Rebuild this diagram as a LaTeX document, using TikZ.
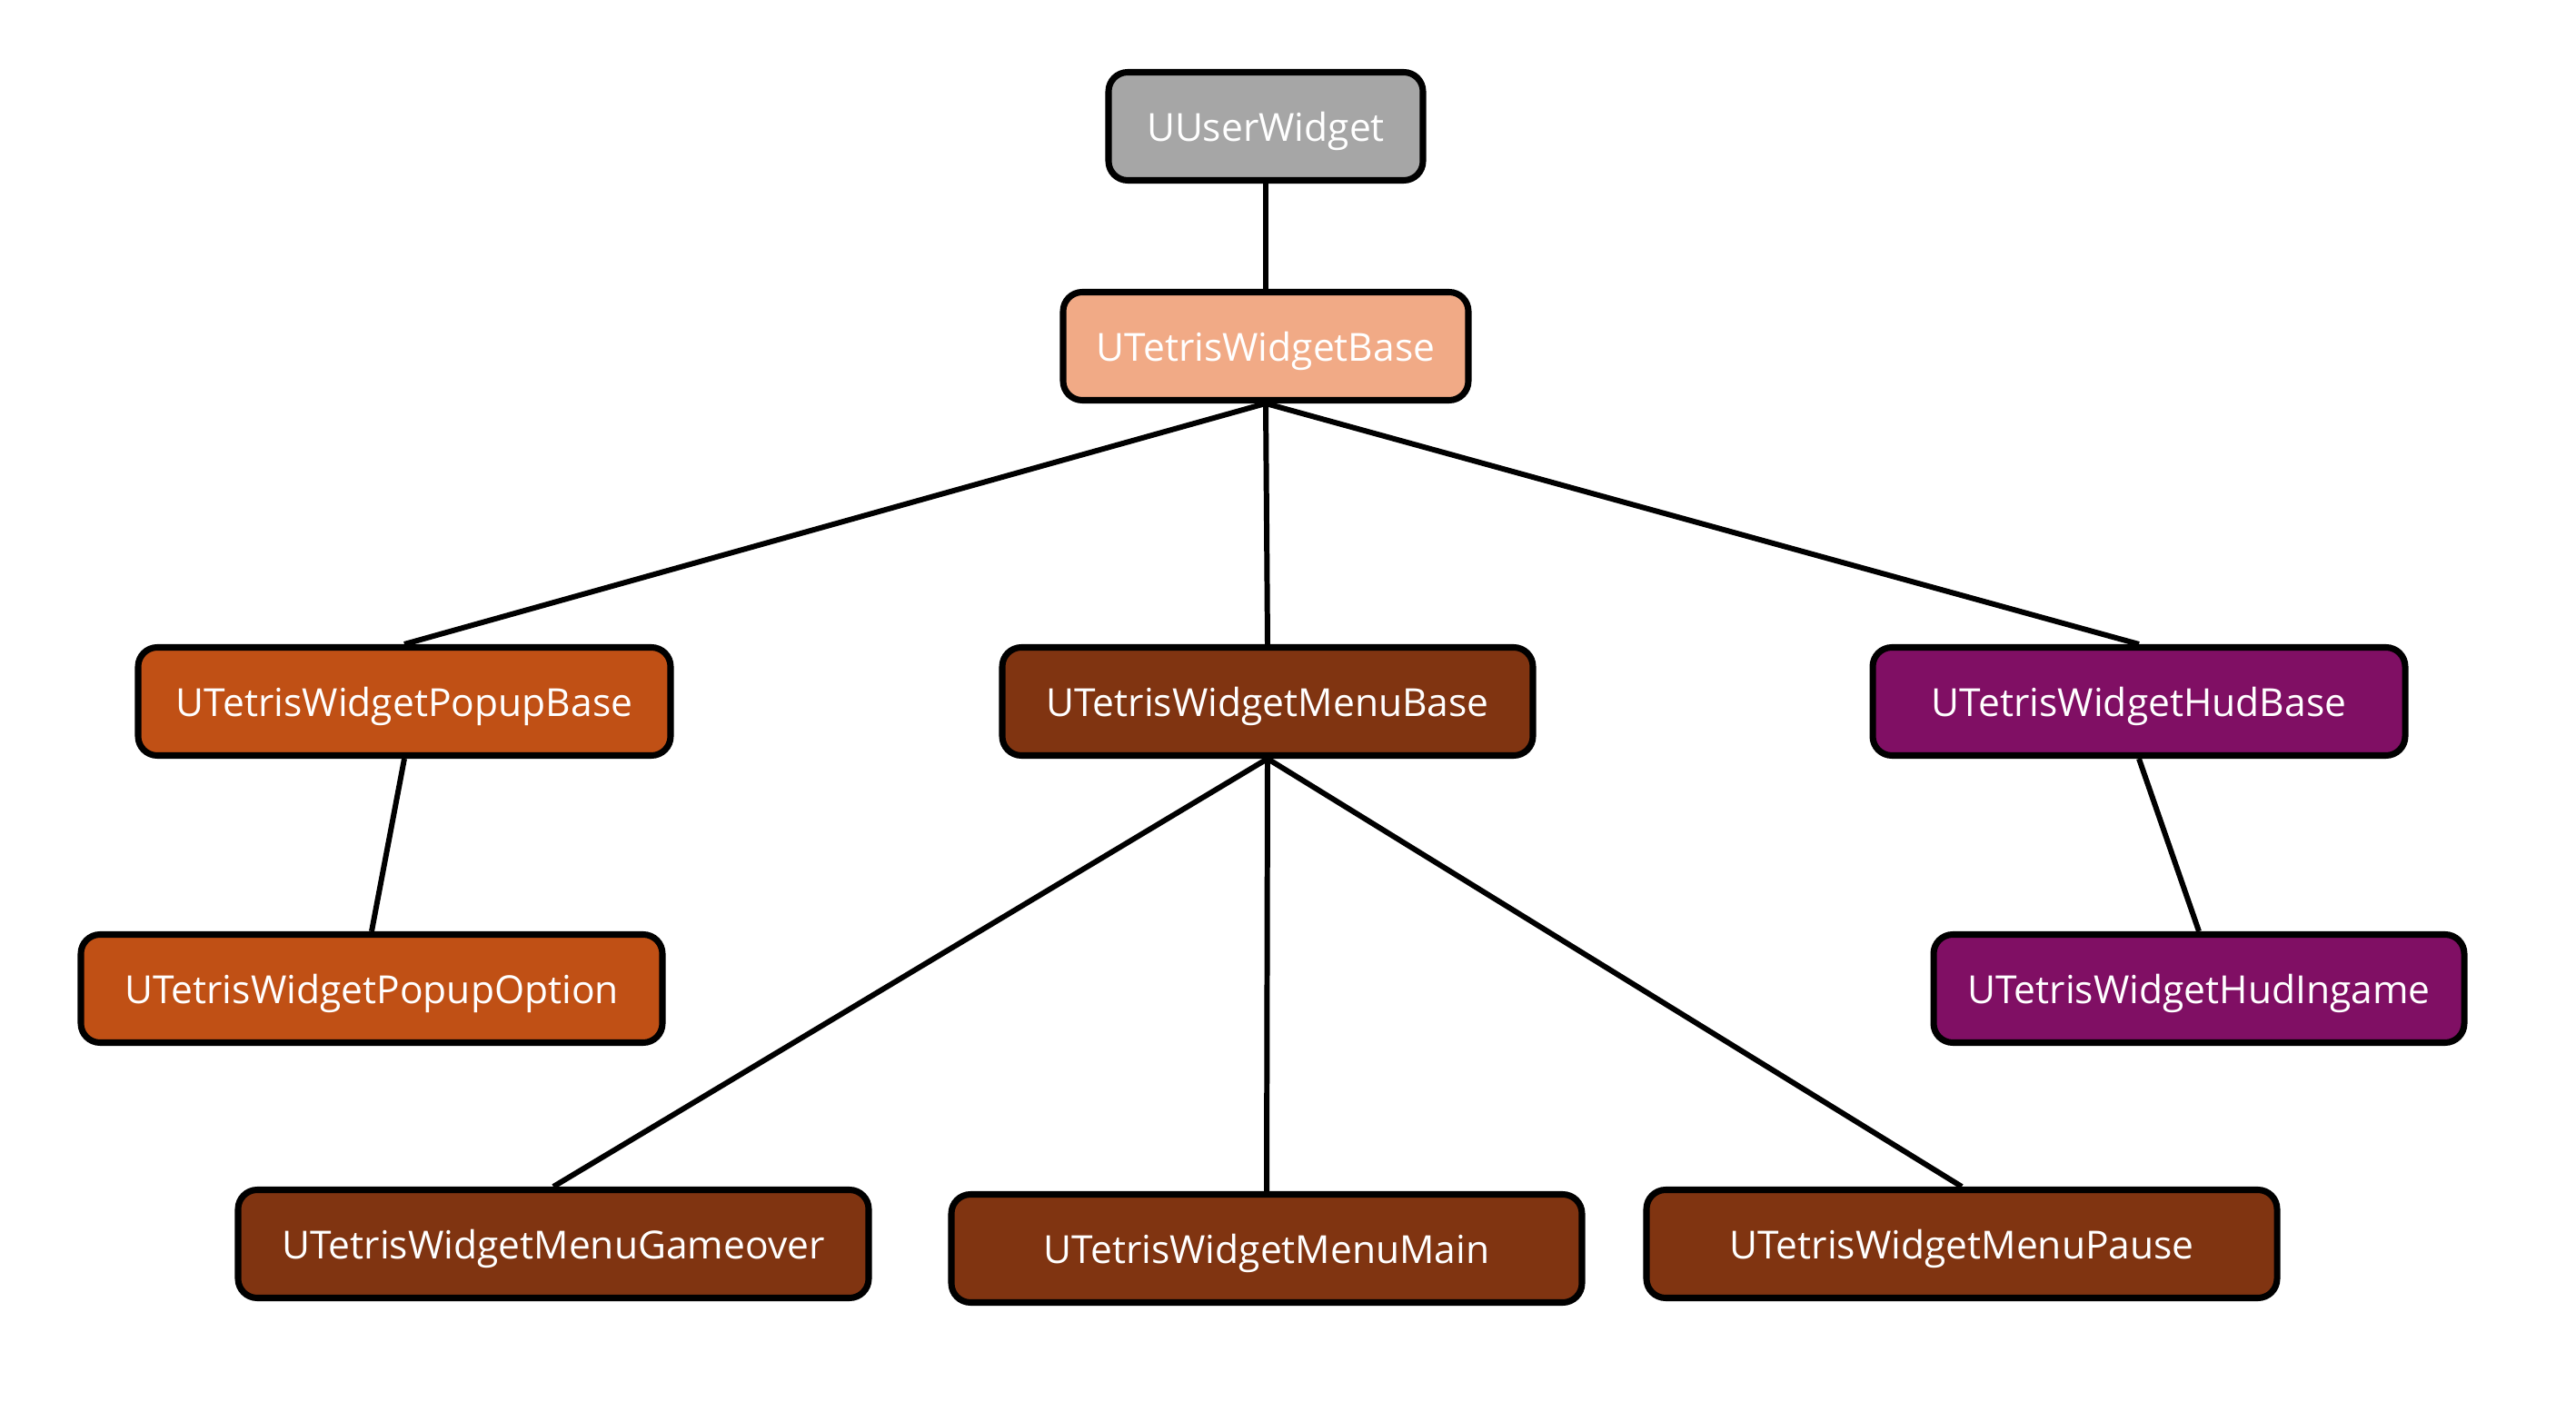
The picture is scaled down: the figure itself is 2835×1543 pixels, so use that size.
\documentclass[tikz,border=0pt]{standalone}
\usepackage{fontspec}
\setmainfont{Open Sans}
\definecolor{cgray}{RGB}{166,166,166}
\definecolor{csalmon}{RGB}{241,170,134}
\definecolor{corange}{RGB}{192,80,21}
\definecolor{cbrown}{RGB}{128,52,17}
\definecolor{cpurple}{RGB}{128,15,100}
\tikzset{
  cls/.style={draw=black, line width=2pt, rounded corners=6pt, text=white,
    font=\fontsize{12.1}{14}\selectfont, inner sep=0pt, text depth=0pt,
    minimum height=119*0.01cm},
  link/.style={draw=black, line width=1.7pt}
}
\begin{document}
\begin{tikzpicture}[x=0.01cm,y=-0.01cm]
\useasboundingbox (0,0) rectangle (2835,1543);
\node[cls, fill=cgray, minimum width=346*0.01cm] (uw) at (1393,139) {UUserWidget};
\node[cls, fill=csalmon, minimum width=446*0.01cm] (base) at (1393,381) {UTetrisWidgetBase};
\node[cls, fill=corange, minimum width=586*0.01cm] (pb) at (445,772) {UTetrisWidgetPopupBase};
\node[cls, fill=cbrown, minimum width=584*0.01cm] (mb) at (1395,772) {UTetrisWidgetMenuBase};
\node[cls, fill=cpurple, minimum width=586*0.01cm] (hb) at (2354,772) {UTetrisWidgetHudBase};
\node[cls, fill=corange, minimum width=640*0.01cm] (po) at (409,1088) {UTetrisWidgetPopupOption};
\node[cls, fill=cpurple, minimum width=584*0.01cm] (hi) at (2420,1088) {UTetrisWidgetHudIngame};
\node[cls, fill=cbrown, minimum width=694*0.01cm] (mg) at (609,1369) {UTetrisWidgetMenuGameover};
\node[cls, fill=cbrown, minimum width=694*0.01cm] (mm) at (1394,1374) {UTetrisWidgetMenuMain};
\node[cls, fill=cbrown, minimum width=694*0.01cm] (mp) at (2159,1369) {UTetrisWidgetMenuPause};
\draw[link] (uw.south) -- (base.north);
\draw[link] (base.south) -- (pb.north);
\draw[link] (base.south) -- (mb.north);
\draw[link] (base.south) -- (hb.north);
\draw[link] (pb.south) -- (po.north);
\draw[link] (hb.south) -- (hi.north);
\draw[link] (mb.south) -- (mg.north);
\draw[link] (mb.south) -- (mm.north);
\draw[link] (mb.south) -- (mp.north);
\end{tikzpicture}
\end{document}
